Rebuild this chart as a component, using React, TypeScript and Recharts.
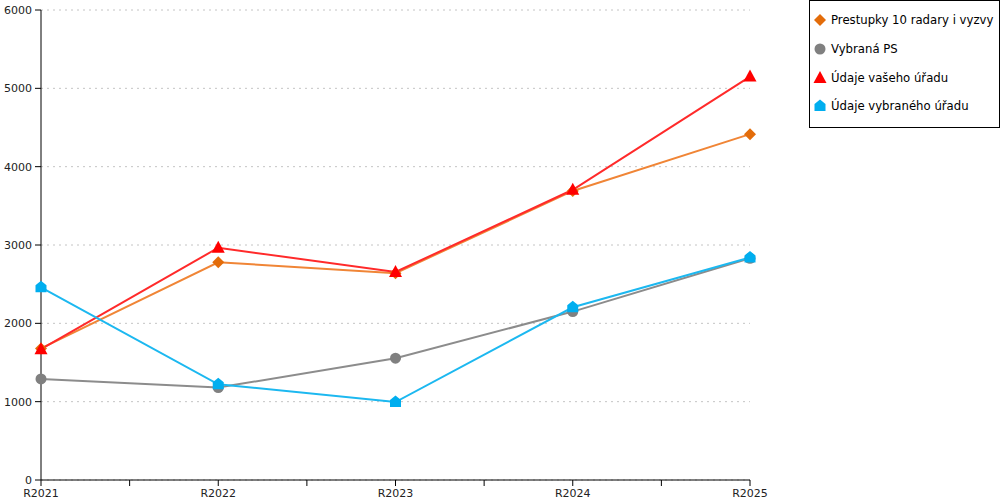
import React from "react";
import { LineChart, Line, XAxis, YAxis, CartesianGrid } from "recharts";

const categories = ["R2021", "R2022", "R2023", "R2024", "R2025"];
const prestupky = [1680, 2780, 2640, 3690, 4415];
const vybranaPS = [1290, 1180, 1555, 2150, 2830];
const vasUrad = [1670, 2965, 2655, 3705, 5150];
const vybranyUrad = [2460, 1222, 995, 2205, 2840];
const yTicks = [0, 1000, 2000, 3000, 4000, 5000, 6000];
const xTicks = [0, 0.5, 1, 1.5, 2, 2.5, 3, 3.5, 4];

const data = categories.map((c, i) => ({
  x: i,
  name: c,
  prestupky: prestupky[i],
  vybranaPS: vybranaPS[i],
  vasUrad: vasUrad[i],
  vybranyUrad: vybranyUrad[i],
}));

const FONT = "'DejaVu Sans', Verdana, sans-serif";

type Shape = "diamond" | "circle" | "triangle" | "house";

function shapePath(shape: Shape, cx: number, cy: number): string {
  switch (shape) {
    case "diamond":
      return `M${cx},${cy - 6}L${cx + 6},${cy}L${cx},${cy + 6}L${cx - 6},${cy}Z`;
    case "triangle":
      return `M${cx},${cy - 7}L${cx + 6.5},${cy + 5}L${cx - 6.5},${cy + 5}Z`;
    case "house":
      return `M${cx},${cy - 6.5}L${cx + 5.5},${cy - 2}L${cx + 5.5},${cy + 5}L${cx - 5.5},${cy + 5}L${cx - 5.5},${cy - 2}Z`;
    default:
      return "";
  }
}

function Marker({ shape, color, cx, cy }: { shape: Shape; color: string; cx: number; cy: number }) {
  if (shape === "circle") return <circle cx={cx} cy={cy} r={5.5} fill={color} />;
  return <path d={shapePath(shape, cx, cy)} fill={color} />;
}

const series: { key: string; name: string; line: string; mark: string; shape: Shape }[] = [
  { key: "prestupky", name: "Prestupky 10 radary i vyzvy", line: "#F08536", mark: "#E36C0A", shape: "diamond" },
  { key: "vybranaPS", name: "Vybraná PS", line: "#8C8C8C", mark: "#808080", shape: "circle" },
  { key: "vasUrad", name: "Údaje vašeho úřadu", line: "#FF2A2A", mark: "#FF0000", shape: "triangle" },
  { key: "vybranyUrad", name: "Údaje vybraného úřadu", line: "#1CB8F0", mark: "#00AEEF", shape: "house" },
];

function LegendBox() {
  return (
    <div
      style={{
        position: "absolute",
        left: 809,
        top: 0,
        boxSizing: "border-box",
        width: 191,
        height: 128,
        border: "1px solid #000",
        background: "#fff",
        fontFamily: FONT,
        fontSize: 11.7,
        color: "#000",
        paddingTop: 5,
      }}
    >
      {series.map((s) => (
        <div key={s.key} style={{ display: "flex", alignItems: "center", height: 28.7, paddingLeft: 3 }}>
          <svg width={14} height={14} style={{ marginRight: 4 }}>
            <Marker shape={s.shape} color={s.mark} cx={7} cy={7} />
          </svg>
          <span style={{ whiteSpace: "nowrap" }}>{s.name}</span>
        </div>
      ))}
    </div>
  );
}

export default function App() {
  return (
    <div style={{ position: "absolute", left: 0, top: 0, width: 1000, height: 500, background: "#fff", fontFamily: FONT }}>
      <LineChart width={1000} height={500} data={data} margin={{ top: 10, right: 250, bottom: 0, left: 0 }}>
        <CartesianGrid vertical={false} stroke="#C4C4C4" strokeDasharray="2 4" yAxisId="l" />
        <XAxis
          dataKey="x"
          type="number"
          domain={[0, 4]}
          ticks={xTicks}
          interval={0}
          tickFormatter={(v: number) => (Number.isInteger(v) ? categories[v] : "")}
          height={20}
          tickSize={6}
          tickMargin={3}
          axisLine={{ stroke: "#000" }}
          tickLine={{ stroke: "#000" }}
          tick={{ fill: "#222", fontSize: 11, fontFamily: FONT }}
        />
        <YAxis
          yAxisId="l"
          domain={[0, 6000]}
          ticks={yTicks}
          width={41}
          tickSize={6}
          tickMargin={3}
          axisLine={{ stroke: "#000" }}
          tickLine={{ stroke: "#000" }}
          tick={{ fill: "#222", fontSize: 11, fontFamily: FONT }}
        />
        <YAxis
          yAxisId="r"
          orientation="right"
          domain={[0, 6000]}
          width={0}
          tick={false}
          tickLine={false}
          axisLine={{ stroke: "#000" }}
        />
        {series.map((s) => (
          <Line
            key={s.key}
            yAxisId="l"
            type="linear"
            dataKey={s.key}
            name={s.name}
            stroke={s.line}
            strokeWidth={2}
            isAnimationActive={false}
            dot={(p: any) => <Marker key={`${s.key}-${p.index}`} shape={s.shape} color={s.mark} cx={p.cx} cy={p.cy} />}
            activeDot={false}
          />
        ))}
      </LineChart>
      <LegendBox />
    </div>
  );
}
